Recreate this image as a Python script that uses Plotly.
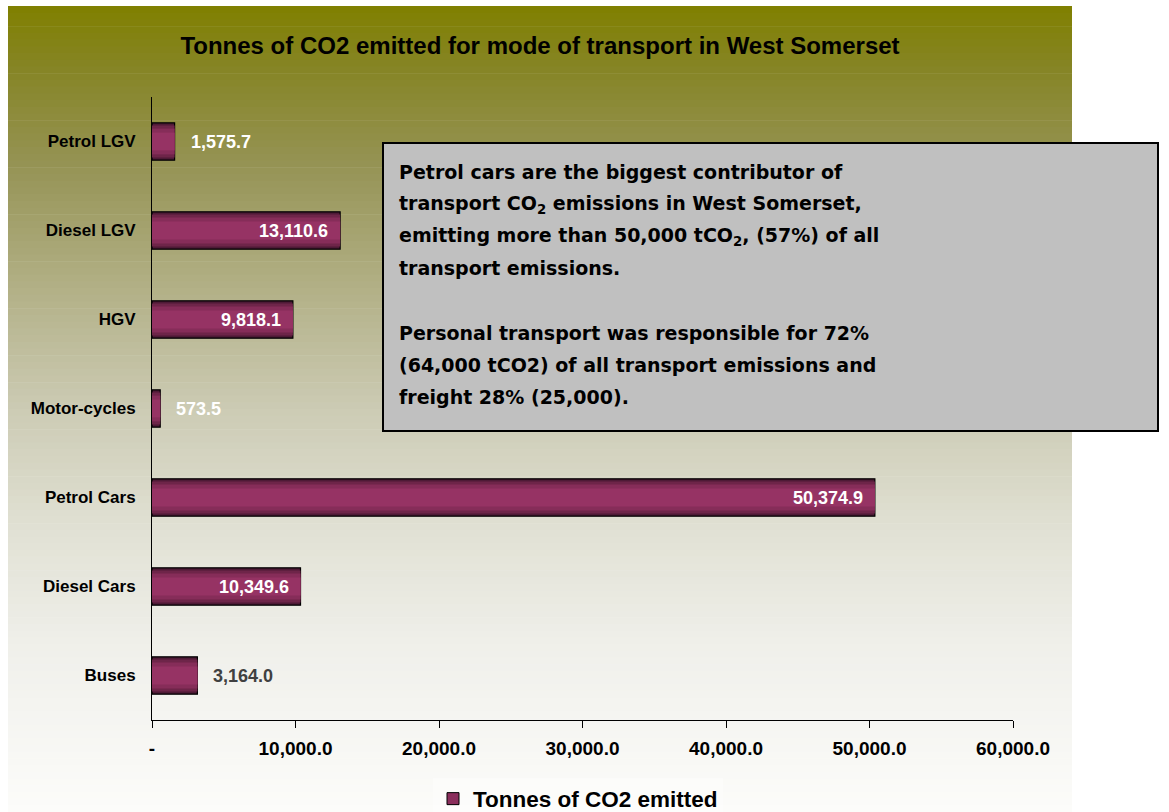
import plotly.graph_objects as go

# ---- data -------------------------------------------------------------
modes = ["Buses", "Diesel Cars", "Petrol Cars", "Motor-cycles", "HGV", "Diesel LGV", "Petrol LGV"]
tonnes = [3164.0, 10349.6, 50374.9, 573.5, 9818.1, 13110.6, 1575.7]
label_inside = [False, True, True, False, True, True, False]
label_col = ["#404040", "white", "white", "white", "white", "white", "white"]

x_tickvals = [0, 10000, 20000, 30000, 40000, 50000, 60000]
x_ticktext = ["-", "10,000.0", "20,000.0", "30,000.0", "40,000.0", "50,000.0", "60,000.0"]

note_lines = [
    "Petrol cars are the biggest contributor of",
    "transport CO<sub>2</sub> emissions in West Somerset,",
    "emitting more than 50,000 tCO<sub>2</sub>, (57%) of all",
    "transport emissions.",
    "",
    "Personal transport was responsible for 72%",
    "(64,000 tCO2) of all transport emissions and",
    "freight 28% (25,000).",
]

# ---- page geometry (pixels) -------------------------------------------
W, H = 1169, 812
PL, PR, PT, PB = 152, 1013, 97, 720


def px(x):
    return (x - PL) / (PR - PL)


def py(y):
    return (PB - y) / (PB - PT)


# olive -> white background, drawn as thin strips
stops = [
    (0.00, (128, 128, 0)),
    (0.08, (134, 133, 38)),
    (0.20, (150, 148, 86)),
    (0.35, (178, 176, 134)),
    (0.50, (204, 203, 180)),
    (0.65, (225, 225, 212)),
    (0.80, (240, 240, 235)),
    (1.00, (252, 252, 250)),
]


def grad(t):
    for (t0, c0), (t1, c1) in zip(stops, stops[1:]):
        if t0 <= t <= t1:
            f = (t - t0) / (t1 - t0)
            return "rgb(%d,%d,%d)" % tuple(round(a + (b - a) * f) for a, b in zip(c0, c1))
    return "rgb(%d,%d,%d)" % stops[-1][1]


shapes = []
BG_TOP, BG_BOT, BG_L, BG_R = 6, 812, 8, 1072
n = 120
step = (BG_BOT - BG_TOP) / n
for i in range(n):
    y0 = BG_TOP + i * step
    shapes.append(dict(
        type="rect", xref="paper", yref="paper", layer="below",
        x0=px(BG_L), x1=px(BG_R), y0=py(y0), y1=py(y0 + step + 0.6),
        fillcolor=grad((i + 0.5) / n), line=dict(width=0),
    ))

# grey comment box
shapes.append(dict(
    type="rect", xref="paper", yref="paper", layer="above",
    x0=px(383), x1=px(1158), y0=py(143), y1=py(431),
    fillcolor="#c0c0c0", line=dict(color="black", width=2),
))

fig = go.Figure()

# bar shading: dark edges, lighter middle
layers = [(0.42, "#4e1a36"), (0.36, "#6e2549"), (0.29, "#862d59"), (0.20, "#963364")]
for k, (w, col) in enumerate(layers):
    fig.add_trace(go.Bar(
        y=modes, x=tonnes, orientation="h",
        width=[w] * len(modes),
        marker=dict(color=col, line=dict(color="black", width=1.2 if k == 0 else 0)),
        name="Tonnes of CO2 emitted", showlegend=False, hoverinfo="skip",
    ))

# legend entry
fig.add_trace(go.Bar(
    y=[None], x=[None], orientation="h", name="Tonnes of CO2 emitted",
    marker=dict(color="#8a2e5c", line=dict(color="black", width=1)),
))

annotations = []
# value labels, anchored on the bar ends
for m, v, inside, col in zip(modes, tonnes, label_inside, label_col):
    annotations.append(dict(
        text=f"{v:,.1f}", x=v, y=m, xref="x", yref="y",
        xanchor="right" if inside else "left", xshift=-10 if inside else 14,
        yanchor="middle", showarrow=False,
        font=dict(family="Liberation Sans, Arial", size=18, color=col, weight="bold"),
    ))

line_y = [172, 204, 236, 268, 300, 333, 365, 397]
for txt, yy in zip(note_lines, line_y):
    if not txt:
        continue
    annotations.append(dict(
        text=txt, xref="paper", yref="paper", x=px(397), y=py(yy),
        xanchor="left", yanchor="middle", showarrow=False,
        font=dict(family="DejaVu Sans", size=19, color="black", weight="bold"),
    ))

fig.update_layout(
    width=W, height=H,
    margin=dict(l=PL, r=W - PR, t=PT, b=H - PB, autoexpand=False),
    paper_bgcolor="white", plot_bgcolor="rgba(0,0,0,0)",
    barmode="overlay",
    title=dict(
        text="Tonnes of CO2 emitted for mode of transport in West Somerset",
        x=px(540), xref="paper", xanchor="center", y=1 - 46 / H, yanchor="middle",
        font=dict(family="Liberation Sans, Arial", size=24, color="black", weight="bold"),
    ),
    showlegend=True,
    legend=dict(
        orientation="h", x=px(578), xanchor="center", y=py(799), yanchor="middle",
        font=dict(family="Liberation Sans, Arial", size=22.5, color="black", weight="bold"),
        bgcolor="rgba(255,255,255,0.35)",
    ),
    shapes=shapes,
    annotations=annotations,
)
fig.update_xaxes(
    range=[0, 60000], tickvals=x_tickvals, ticktext=x_ticktext,
    showline=True, linecolor="black", linewidth=1, mirror=False,
    ticks="outside", ticklen=7, tickcolor="black", showgrid=False, zeroline=False,
    ticklabelstandoff=4,
    tickfont=dict(family="Liberation Sans, Arial", size=19, color="black", weight="bold"),
)
fig.update_yaxes(
    categoryorder="array", categoryarray=modes, range=[-0.5, 6.5],
    showline=True, linecolor="black", linewidth=1, ticks="", showgrid=False,
    ticklabelstandoff=12,
    tickfont=dict(family="Liberation Sans, Arial", size=17, color="black", weight="bold"),
)

fig.write_html("out.html", config={"displayModeBar": False},
               post_script="document.body.style.margin='0';")
